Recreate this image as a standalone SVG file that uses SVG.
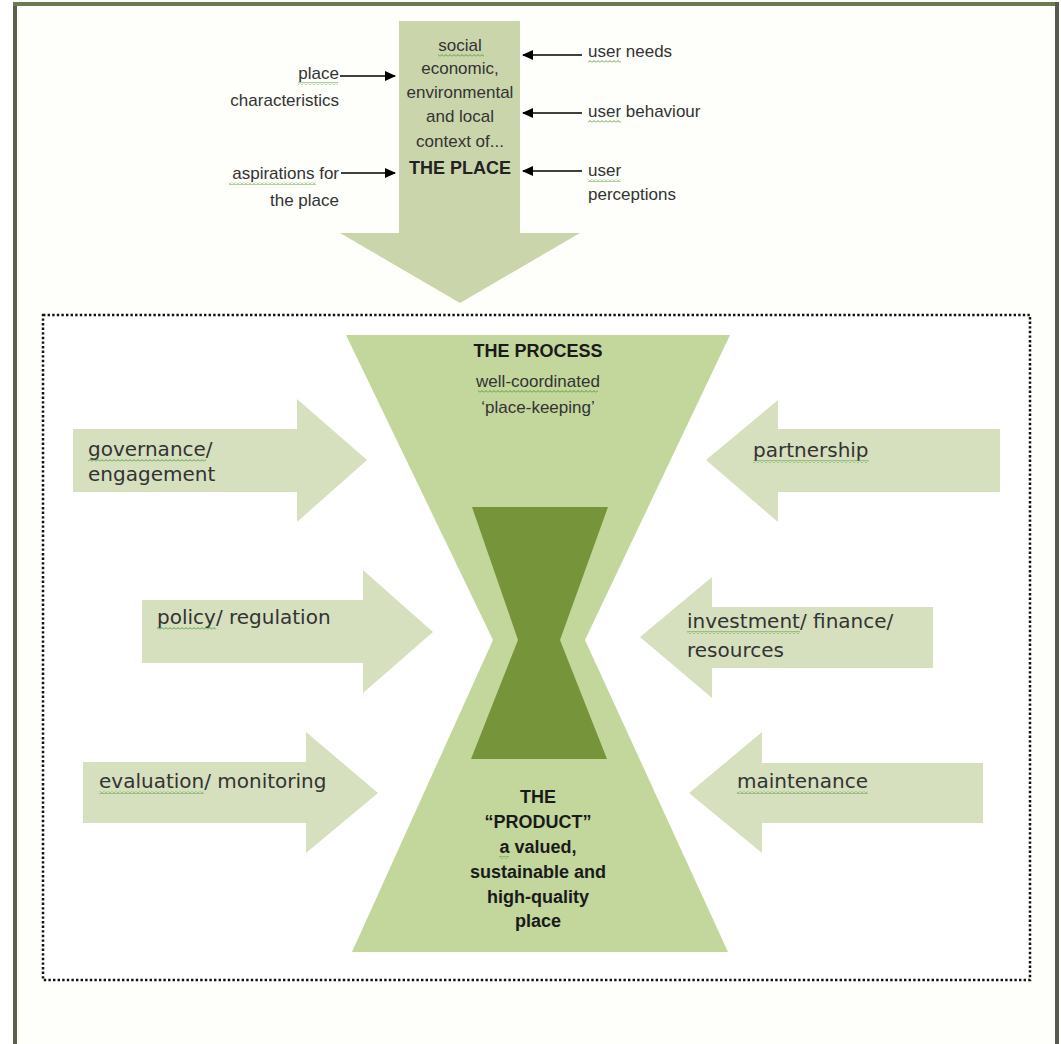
<svg xmlns="http://www.w3.org/2000/svg" width="1061" height="1044" viewBox="0 0 1061 1044">
<style>
.t{font-family:"Liberation Sans",Arial,sans-serif;font-size:17px;fill:#333}
.s{font-family:"DejaVu Sans",Verdana,sans-serif;font-size:20px;fill:#333}
.b{font-family:"Liberation Sans",Arial,sans-serif;font-size:18px;font-weight:bold;fill:#1a1a1a}
.c{text-anchor:middle}
.e{text-anchor:end}
.side{fill:#d6e0be}
.sq{fill:url(#squig)}
.conn{stroke:#000;stroke-width:1.6;fill:none;marker-end:url(#ah)}
</style>
<defs>
<pattern id="squig" patternUnits="userSpaceOnUse" width="4" height="3">
<path d="M0,2.5 L2,0.5 L4,2.5" stroke="#4e9a34" stroke-width="0.9" fill="none"/>
</pattern>
<marker id="ah" markerUnits="userSpaceOnUse" markerWidth="11" markerHeight="10" refX="10" refY="5" orient="auto">
<path d="M0,0 L11,5 L0,10 z" fill="#000"/>
</marker>
</defs>
<rect x="0" y="0" width="1061" height="1044" fill="#fff"/>
<g id="frame">
<rect x="17" y="6" width="1038" height="1038" fill="#fefefa"/>
<line x1="15" y1="4" x2="15" y2="1044" stroke="#5d614c" stroke-width="4"/>
<line x1="13" y1="4" x2="1059" y2="4" stroke="#6a7b4f" stroke-width="4"/>
<line x1="1057" y1="2" x2="1057" y2="1044" stroke="#585a4e" stroke-width="4"/>
<rect x="43" y="315" width="987" height="665" fill="#fff" stroke="#111" stroke-width="2.5" stroke-dasharray="2.4 2.2"/>
</g>
<g id="place">
<polygon points="399,21 520,21 520,233 580,233 460,303 340,233 399,233" fill="#cbd5ac"/>
<text class="t c" x="460" y="51">social</text>
<text class="t c" x="460" y="74">economic,</text>
<text class="t c" x="460" y="98">environmental</text>
<text class="t c" x="460" y="122">and local</text>
<text class="t c" x="460" y="147">context of...</text>
<text class="t c" x="460" y="174" style="font-weight:bold;font-size:18px;fill:#222">THE PLACE</text>
<rect class="sq" x="438" y="54" width="46" height="3"/>
</g>
<g id="place-characteristics">
<text class="t e" x="339" y="79">place</text>
<text class="t e" x="339" y="106">characteristics</text>
<rect class="sq" x="298" y="82" width="40" height="3"/>
</g>
<g id="aspirations">
<text class="t e" x="339" y="179">aspirations for</text>
<text class="t e" x="339" y="206">the place</text>
<rect class="sq" x="229" y="182" width="87" height="3"/>
</g>
<g id="user-needs">
<text class="t" x="588" y="57">user needs</text>
<rect class="sq" x="588" y="60" width="33" height="3"/>
</g>
<g id="user-behaviour">
<text class="t" x="588" y="117">user behaviour</text>
<rect class="sq" x="588" y="120" width="33" height="3"/>
</g>
<g id="user-perceptions">
<text class="t" x="588" y="176">user</text>
<text class="t" x="588" y="200">perceptions</text>
<rect class="sq" x="588" y="179" width="33" height="3"/>
</g>
<g id="connectors">
<line class="conn" x1="340" y1="76" x2="395" y2="76"/>
<line class="conn" x1="341" y1="173" x2="395" y2="173"/>
<line class="conn" x1="582" y1="55" x2="523" y2="55"/>
<line class="conn" x1="582" y1="113" x2="523" y2="113"/>
<line class="conn" x1="582" y1="171" x2="523" y2="171"/>
</g>
<g id="hourglass">
<polygon points="346,335 730,335 585,640 728,952 352,952 493,640" fill="#c3d69c"/>
<polygon points="472,507 608,507 560,640 607,759 471,759 518,640" fill="#76943a"/>
<text class="b c" x="538" y="357">THE PROCESS</text>
<text class="t c" x="538" y="387">well-coordinated</text>
<text class="t c" x="538" y="413">‘place-keeping’</text>
<rect class="sq" x="478" y="390" width="120" height="3"/>
<text class="b c" x="538" y="803">THE</text>
<text class="b c" x="538" y="828">“PRODUCT”</text>
<text class="b c" x="538" y="853">a valued,</text>
<text class="b c" x="538" y="878">sustainable and</text>
<text class="b c" x="538" y="903">high-quality</text>
<text class="b c" x="538" y="927">place</text>
<rect class="sq" x="499" y="856" width="10" height="3"/>
</g>
<g id="governance">
<polygon class="side" points="73,429 297,429 297,399 367,460 297,522 297,492 73,492"/>
<text class="s" x="88" y="456">governance/</text>
<text class="s" x="88" y="481">engagement</text>
<rect class="sq" x="88" y="459" width="118" height="3"/>
</g>
<g id="policy">
<polygon class="side" points="142,600 363,600 363,570 433,632 363,693 363,663 142,663"/>
<text class="s" x="157" y="624">policy/ regulation</text>
<rect class="sq" x="157" y="627" width="59" height="3"/>
</g>
<g id="evaluation">
<polygon class="side" points="83,762 306,762 306,732 378,793 306,853 306,823 83,823"/>
<text class="s" x="99" y="788">evaluation/ monitoring</text>
<rect class="sq" x="99" y="791" width="105" height="3"/>
</g>
<g id="partnership">
<polygon class="side" points="1000,429 778,429 778,400 706,460 778,522 778,492 1000,492"/>
<text class="s" x="753" y="457">partnership</text>
<rect class="sq" x="753" y="460" width="116" height="3"/>
</g>
<g id="investment">
<polygon class="side" points="933,607 712,607 712,577 640,637 712,698 712,668 933,668"/>
<text class="s" x="687" y="628">investment/ finance/</text>
<text class="s" x="687" y="657">resources</text>
<rect class="sq" x="687" y="631" width="113" height="3"/>
</g>
<g id="maintenance">
<polygon class="side" points="983,763 762,763 762,732 689,793 762,853 762,823 983,823"/>
<text class="s" x="737" y="788">maintenance</text>
<rect class="sq" x="737" y="791" width="131" height="3"/>
</g>
</svg>
